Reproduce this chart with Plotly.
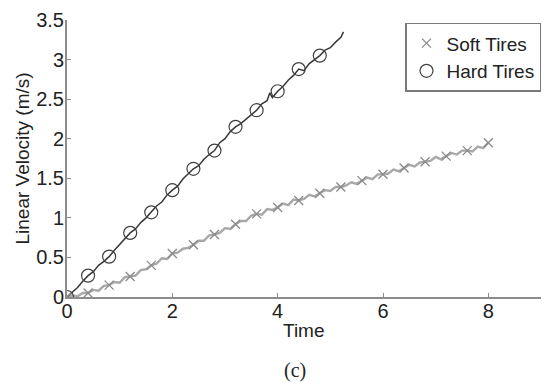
import plotly.graph_objects as go

# ---- data ----
hard_t = [0.0, 0.1, 0.2, 0.3, 0.4, 0.5, 0.6, 0.7, 0.8, 0.9,
          1.0, 1.1, 1.2, 1.3, 1.4, 1.5, 1.6, 1.7, 1.8, 1.9,
          2.0, 2.1, 2.2, 2.3, 2.4, 2.5, 2.6, 2.7, 2.8, 2.9,
          3.0, 3.1, 3.2, 3.3, 3.4, 3.5, 3.6, 3.7, 3.8, 3.85, 3.9,
          4.0, 4.1, 4.2, 4.3, 4.4, 4.5, 4.6, 4.7, 4.8, 4.9,
          5.0, 5.1, 5.2, 5.25]
hard_v = [0.00, 0.06, 0.12, 0.20, 0.27, 0.32, 0.40, 0.45, 0.51, 0.59,
          0.66, 0.73, 0.81, 0.86, 0.94, 1.00, 1.07, 1.15, 1.20, 1.29,
          1.35, 1.40, 1.49, 1.55, 1.62, 1.66, 1.74, 1.80, 1.85, 1.95,
          2.00, 2.09, 2.15, 2.19, 2.25, 2.31, 2.36, 2.44, 2.48, 2.58, 2.52,
          2.60, 2.66, 2.74, 2.80, 2.88, 2.86, 2.95, 3.00, 3.05, 3.12,
          3.15, 3.22, 3.28, 3.35]
hard_marker_t = [0.0, 0.4, 0.8, 1.2, 1.6, 2.0, 2.4, 2.8, 3.2, 3.6, 4.0, 4.4, 4.8]
hard_marker_v = [0.00, 0.27, 0.51, 0.81, 1.07, 1.35, 1.62, 1.85, 2.15, 2.36, 2.60, 2.88, 3.05]

soft_t = [0.0, 0.1, 0.2, 0.3, 0.4, 0.5, 0.6, 0.7, 0.8, 0.9,
          1.0, 1.1, 1.2, 1.3, 1.4, 1.5, 1.6, 1.7, 1.8, 1.9,
          2.0, 2.1, 2.2, 2.3, 2.4, 2.5, 2.6, 2.7, 2.8, 2.9,
          3.0, 3.1, 3.2, 3.3, 3.4, 3.5, 3.6, 3.7, 3.8, 3.9,
          4.0, 4.1, 4.2, 4.3, 4.4, 4.5, 4.6, 4.7, 4.8, 4.9,
          5.0, 5.1, 5.2, 5.3, 5.4, 5.5, 5.6, 5.7, 5.8, 5.9,
          6.0, 6.1, 6.2, 6.3, 6.4, 6.5, 6.6, 6.7, 6.8, 6.9,
          7.0, 7.1, 7.2, 7.3, 7.4, 7.5, 7.6, 7.7, 7.8, 7.9, 8.0]
soft_v = [0.00, 0.02, 0.01, 0.05, 0.05, 0.09, 0.08, 0.14, 0.15, 0.19,
          0.18, 0.25, 0.26, 0.27, 0.34, 0.35, 0.40, 0.42, 0.49, 0.48,
          0.55, 0.56, 0.61, 0.62, 0.66, 0.71, 0.71, 0.78, 0.79, 0.81,
          0.87, 0.86, 0.92, 0.96, 0.96, 1.03, 1.05, 1.04, 1.11, 1.10,
          1.13, 1.18, 1.16, 1.23, 1.22, 1.24, 1.29, 1.27, 1.31, 1.35,
          1.34, 1.39, 1.39, 1.41, 1.45, 1.43, 1.47, 1.51, 1.49, 1.55,
          1.55, 1.56, 1.61, 1.59, 1.63, 1.67, 1.65, 1.70, 1.71, 1.72,
          1.77, 1.74, 1.78, 1.82, 1.80, 1.85, 1.85, 1.84, 1.90, 1.88, 1.95]

marker_step = 4
x_ticks = [0, 2, 4, 6, 8]
y_ticks = [0, 0.5, 1, 1.5, 2, 2.5, 3, 3.5]
y_tick_text = ["0", "0.5", "1", "1.5", "2", "2.5", "3", "3.5"]

FONT = "Arial, Liberation Sans, sans-serif"

fig = go.Figure()

# noisy lines
fig.add_trace(go.Scatter(x=soft_t, y=soft_v, mode="lines",
                         line=dict(color="#a8a8a8", width=2.4),
                         showlegend=False, hoverinfo="skip"))
fig.add_trace(go.Scatter(x=hard_t, y=hard_v, mode="lines",
                         line=dict(color="#383838", width=1.5),
                         showlegend=False, hoverinfo="skip"))

# markers
fig.add_trace(go.Scatter(x=soft_t[::marker_step], y=soft_v[::marker_step],
                         mode="markers", name="Soft Tires",
                         marker=dict(symbol="x-thin-open", size=9,
                                     line=dict(color="#8a8a8a", width=1.3),
                                     color="#8a8a8a")))
fig.add_trace(go.Scatter(x=hard_marker_t, y=hard_marker_v,
                         mode="markers", name="Hard Tires",
                         marker=dict(symbol="circle-open", size=13,
                                     line=dict(color="#404040", width=1.2),
                                     color="#404040")))

axis_common = dict(showgrid=False, zeroline=False, showline=True,
                   linecolor="#8c8c8c", linewidth=2, ticks="inside",
                   ticklen=4, tickcolor="#8c8c8c",
                   tickfont=dict(family=FONT, size=20, color="#222"))

fig.update_xaxes(range=[0, 9], tickvals=x_ticks, ticklabelstandoff=-5,
                 **axis_common)
fig.update_yaxes(range=[0, 3.5], tickvals=y_ticks, ticktext=y_tick_text,
                 ticklabelstandoff=-3, **axis_common)

fig.update_layout(
    width=544, height=383,
    margin=dict(l=67, r=3, t=20, b=86),
    plot_bgcolor="white", paper_bgcolor="white",
    font=dict(family=FONT, size=20, color="#222"),
    legend=dict(x=1, y=0.99, xanchor="right", yanchor="top",
                bordercolor="#7a7a7a", borderwidth=1.5,
                bgcolor="white", font=dict(size=19, color="#222"),
                itemwidth=30, tracegroupgap=0),
    annotations=[
        dict(text="Time", xref="paper", yref="paper", x=0.5, y=0,
             yshift=-33, xanchor="center", yanchor="middle",
             showarrow=False, font=dict(size=19)),
        dict(text="Linear Velocity (m/s)", xref="paper", yref="paper",
             x=0, y=0.5, xshift=-45, xanchor="center", yanchor="middle",
             textangle=-90, showarrow=False, font=dict(size=19)),
        dict(text="(c)", xref="paper", yref="paper", x=0.5, y=0,
             xshift=-9, yshift=-73, xanchor="center", yanchor="middle",
             showarrow=False,
             font=dict(size=20, family="Liberation Serif, Times New Roman, serif")),
    ],
)

fig.write_html("out.html")
